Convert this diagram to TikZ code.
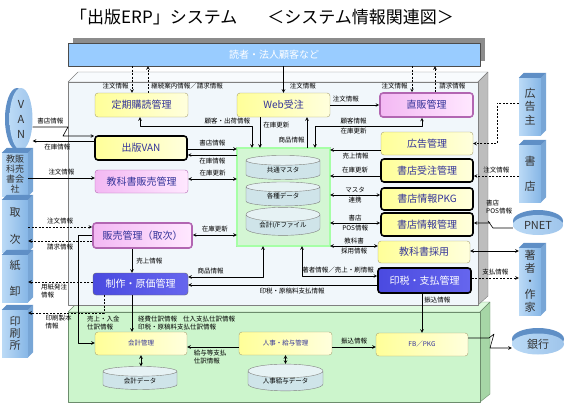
\documentclass[tikz,border=0pt]{standalone}
\usepackage{fontspec}
\setmainfont{Noto Sans CJK JP}
\usetikzlibrary{shapes.geometric,positioning}
\definecolor{boxtext}{HTML}{333399}
\definecolor{boxline}{HTML}{A8A070}
\definecolor{ylwL}{HTML}{FFFF99}
\definecolor{ylwR}{HTML}{FFFFDD}
\definecolor{pnkL}{HTML}{F3B8F3}
\definecolor{pnkR}{HTML}{FFE8FF}
\definecolor{bluL}{HTML}{4A4AE0}
\definecolor{bluR}{HTML}{6666EE}
\definecolor{entL}{HTML}{BBDAF6}
\definecolor{entR}{HTML}{86B6E6}
\definecolor{entTop}{HTML}{5F8FC6}
\definecolor{entSide}{HTML}{78A6D6}
\definecolor{bannerfill}{HTML}{99CCFF}
\definecolor{mainfill}{HTML}{F1F7FB}
\definecolor{maintop}{HTML}{F8FBFD}
\definecolor{mainside}{HTML}{BDBDBD}
\definecolor{greenfill}{HTML}{CCF5CC}
\definecolor{greentop}{HTML}{DDFADD}
\definecolor{greenside}{HTML}{A6D6A6}
\definecolor{greenline}{HTML}{6C8C6C}
\definecolor{dbfill}{HTML}{D4F6D4}
\definecolor{cylbody}{HTML}{CFE4E9}
\definecolor{cylend}{HTML}{E6F2F4}
\tikzstyle{erp} = [x=1pt, y=-1pt,
                   >=stealth,
                   line join=round]
\tikzstyle{sysbox} = [rectangle,
                      rounded corners=3pt,
                      draw=boxline,
                      left color=ylwL,
                      right color=ylwR,
                      text=boxtext,
                      font=\fontsize{10}{11}\selectfont,
                      minimum width=93pt,
                      minimum height=24pt,
                      inner sep=0pt]
\tikzstyle{keybox} = [sysbox, draw=black, line width=1.6pt]
\tikzstyle{pinkbox} = [left color=pnkL, right color=pnkR, draw=violet!60]
\tikzstyle{bluebox} = [left color=bluL, right color=bluR, text=white]
\tikzstyle{subbox} = [sysbox, font=\fontsize{6.5}{7.5}\selectfont]
\tikzstyle{dbcyl} = [cylinder,
                     shape border rotate=90,
                     aspect=.3,
                     draw=gray,
                     cylinder uses custom fill,
                     cylinder body fill=cylbody,
                     cylinder end fill=cylend,
                     minimum width=74pt,
                     minimum height=24pt,
                     inner sep=0pt,
                     font=\fontsize{6.5}{7.5}\selectfont]
\tikzstyle{entity} = [rectangle,
                      left color=entL,
                      right color=entR,
                      inner sep=0pt,
                      align=center,
                      text=black!80,
                      font=\fontsize{11}{12}\selectfont]
\tikzstyle{disk} = [ellipse, left color=entL, right color=entR!80, inner sep=0pt,
                    align=center, text=black!80, font=\fontsize{11}{12}\selectfont]
\tikzstyle{info} = [font=\fontsize{6.5}{7.5}\selectfont, inner sep=0pt]
\tikzstyle{flow} = [line width=.6pt, ->]
\tikzstyle{link} = [flow, dash pattern=on 2pt off 1.5pt]

\begin{document}
\begin{tikzpicture}[erp]
    \useasboundingbox (0,0) rectangle (568,407);
    \node (title) at (262,17) [font=\fontsize{17}{19}\selectfont]
      {「出版ERP」システム\hspace{30pt}＜システム情報関連図＞};

    % 顧客
    \fill[gray!90] (73,38) rectangle (485,61);
    \node (banner) at (274,54.5) [rectangle, draw=black!70, fill=bannerfill,
      minimum width=412pt, minimum height=23pt, text=white,
      font=\fontsize{10}{11}\selectfont] {読者・法人顧客など};

    % 会計系の箱
    \filldraw[draw=greenline, fill=greentop] (68,312) -- (78,302) -- (490,302) -- (480,312) -- cycle;
    \filldraw[draw=greenline, fill=greenside] (480,312) -- (490,302) -- (490,394) -- (480,402) -- cycle;
    \filldraw[draw=greenline, fill=greenfill] (68,312) rectangle (480,402);

    % 業務系の箱
    \filldraw[draw=gray, fill=maintop] (68,82) -- (78,72) -- (488,72) -- (478,82) -- cycle;
    \filldraw[draw=gray, fill=mainside] (478,82) -- (488,72) -- (488,296) -- (478,305) -- cycle;
    \filldraw[draw=gray, fill=mainfill] (68,82) rectangle (478,305);

    % 業務
    \node (teiki) at (141.5,105) [sysbox] {定期購読管理};
    \node (web) at (283.5,105) [sysbox] {Web受注};
    \node (chokuhan) at (426.5,105) [keybox, pinkbox] {直販管理};
    \node (van) at (141,148) [keybox, minimum width=92pt] {出版VAN};
    \node (kyouka) at (141.5,181.5) [sysbox, pinkbox, minimum height=23pt] {教科書販売管理};
    \node (hanbai) at (142.5,235.5) [keybox, pinkbox, minimum width=99pt, minimum height=25pt] {販売管理（取次）};
    \node (seisaku) at (140.5,284) [sysbox, bluebox, draw=black!60, minimum width=95pt, minimum height=22pt] {制作・原価管理};
    \node (koukoku) at (427,143.5) [sysbox, minimum width=92pt, minimum height=23pt] {広告管理};
    \node (juchu) at (427,170.5) [keybox, minimum width=92pt, minimum height=23pt] {書店受注管理};
    \node (pkg) at (427,199) [keybox, minimum width=92pt, minimum height=22pt] {書店情報PKG};
    \node (shojoho) at (427,224.5) [keybox, minimum width=92pt, minimum height=23pt] {書店情報管理};
    \node (saiyou) at (424,252) [sysbox, minimum width=92pt, minimum height=22pt] {教科書採用};
    \node (inzei) at (424.5,280.5) [keybox, bluebox, minimum width=93pt, minimum height=25pt] {印税・支払管理};

    % データベース
    \node (db) at (283.5,197) [rectangle, draw=greenline, double=green!35, double distance=1.2pt,
      fill=dbfill, minimum width=93pt, minimum height=98pt] {};
    \node (kyoutsu) at (283,170) [dbcyl] {共通マスタ};
    \node (kakushu) at (283,196.5) [dbcyl] {各種データ};
    \node (kaikeiif) at (283,225) [dbcyl] {会計I/Fファイル};

    % 会計系
    \node (kaikei) at (141,343.5) [subbox, minimum width=92pt, minimum height=23pt] {会計管理};
    \node (kdata) at (140,380.5) [dbcyl, minimum height=23pt] {会計データ};
    \node (jinji) at (285.5,343.5) [subbox, minimum width=93pt, minimum height=23pt] {人事・給与管理};
    \node (jdata) at (285.5,381) [dbcyl, minimum width=75pt] {人事給与データ};
    \node (fb) at (422,344.5) [subbox, minimum width=92pt, minimum height=23pt] {FB／PKG};

    % 外部
    \fill[entTop] (17,119) ellipse [x radius=12, y radius=31];
    \node (vanent) at (21,119) [disk, minimum width=23pt, minimum height=62pt]
      {V\\[3pt]A\\[3pt]N};
    \node (kyousha) at (15,174.5) [entity, minimum width=26pt, minimum height=43pt,
      font=\fontsize{9}{10}\selectfont] {教販\\科売\\書会\\社};
    \node (toritsugi) at (15,226) [entity, minimum width=26pt, minimum height=52pt] {取\\[15pt]次};
    \node (kamioroshi) at (15,278.5) [entity, minimum width=26pt, minimum height=47pt] {紙\\[14pt]卸};
    \node (insatsu) at (15,333.5) [entity, minimum width=26pt, minimum height=47pt] {印\\刷\\所};
    \node (kunushi) at (530,106.5) [entity, minimum width=22pt, minimum height=57pt]
      {広\\[1.5pt]告\\[1.5pt]主};
    \node (shoten) at (530,173.5) [entity, minimum width=22pt, minimum height=57pt] {書\\[13pt]店};
    \node (chosha) at (530,281.5) [entity, minimum width=22pt, minimum height=67pt]
      {著\\[1pt]者\\[1pt]・\\[1pt]作\\[1pt]家};
    \foreach \e in {kyousha,toritsugi,kamioroshi,insatsu,kunushi,shoten,chosha} {
      \fill[entSide] (\e.north east) -- ++(5,-5) -- ([shift={(5pt,5pt)}]\e.south east)
        -- (\e.south east) -- cycle;
      \fill[entTop] (\e.north west) -- ++(5,-5) -- ([shift={(5pt,5pt)}]\e.north east)
        -- (\e.north east) -- cycle;
    }
    \fill[entTop] (538,221) ellipse [x radius=25, y radius=11];
    \node (pnet) at (538,225) [disk, minimum width=50pt, minimum height=20pt] {PNET};
    \fill[entTop] (538,339) ellipse [x radius=26, y radius=11];
    \node (ginkou) at (538,344) [disk, minimum width=52pt, minimum height=21pt] {銀行};

    % 上段の流れ
    \draw[link] (banner.south -| 132,0) -- (teiki.north -| 132,0)
      node[info, pos=.76, left=3pt] {注文情報};
    \draw[link] (teiki.north -| 148,0) -- (banner.south -| 148,0)
      node[info, pos=.24, right=3pt] {継続案内情報／請求情報};
    \draw[flow] (banner.south -| web.north) -- (web.north)
      node[info, pos=.76, right=6pt] {注文情報};
    \draw[link] (banner.south -| 412,0) -- (chokuhan.north -| 412,0)
      node[info, pos=.76, left=4pt] {注文情報};
    \draw[link] (chokuhan.north -| 435,0) -- (banner.south -| 435,0)
      node[info, pos=.24, right=4pt] {請求情報};
    \draw[flow] (web.east) -- (chokuhan.west)
      node[info, pos=.32, above=3pt] {注文情報};
    \draw[flow, <->] (teiki.south -| 140,0) -- (140,126)
      -- node[info, pos=.78, above=1.5pt] {顧客・出荷情報} (252,126) -- (db.north -| 252,0);
    \draw[flow] (web.south -| 260,0) -- (db.north -| 260,0)
      node[info, pos=.25, right=3pt] {在庫更新};
    \draw[flow] (db.north -| 307,0) -- (web.south -| 307,0)
      node[info, pos=.25, left=2pt] {商品情報};
    \draw[flow, <->] (db.north -| 315,0) -- (315,126)
      -- node[info, pos=.36, above=1.5pt] {顧客情報} node[info, pos=.36, below=1.5pt] {在庫更新}
      (422,126) -- (chokuhan.south -| 422,0);

    % 左側の流れ
    \draw[flow] (vanent.east |- 0,127) -- node[info, midway, above=3pt] {書店情報} (68,127)
      -- (63,136) -- (van.west |- 0,136);
    \draw[flow] (van.west |- 0,141) -- (vanent.east |- 0,141)
      node[info, pos=.6, below=3pt] {在庫情報};
    \draw[flow] (van.east |- 0,149) -- (db.west |- 0,149)
      node[info, midway, above=3pt] {書店情報};
    \draw[flow] (db.west |- 0,155) -- (van.east |- 0,155)
      node[info, midway, below=3pt] {在庫情報};
    \draw[flow] (kyousha.east |- 0,178) -- (kyouka.west |- 0,178)
      node[info, midway, above=2.5pt] {注文情報};
    \draw[flow, <->] (kyouka.east |- 0,179) -- (db.west |- 0,179)
      node[info, midway, above=2.5pt] {在庫更新};
    \draw[link] (toritsugi.east |- 0,227) -- (hanbai.west |- 0,227)
      node[info, midway, above=2.5pt] {注文情報};
    \draw[link] (hanbai.west |- 0,241) -- (toritsugi.east |- 0,241)
      node[info, midway, below=2.5pt] {請求情報};
    \draw[flow, <->] (hanbai.east |- 0,235) -- (db.west |- 0,235)
      node[info, midway, above=2.5pt] {在庫更新};
    \draw[flow] (hanbai.south -| 132,0) -- (seisaku.north -| 132,0)
      node[info, midway, right=4pt] {売上情報};
    \draw[flow] (hanbai.west |- 0,235) -- (78,235) -- (78,343) -- (kaikei.west |- 0,343);
    \node[info, align=left, anchor=west] at (87,323) {売上・入金\\仕訳情報};
    \draw[link] (seisaku.west |- 0,282) -- (kamioroshi.east |- 0,282)
      node[info, align=left, pos=.6, below=2pt] {用紙発注\\情報};
    \draw[link] (seisaku.south -| 104,0) -- (104,313) -- (insatsu.east |- 0,313)
      node[info, align=left, pos=.6, below=2pt] {印刷製本\\情報};

    % 右側の流れ
    \draw[link] (kunushi.west |- 0,103) -- (497,103) |- (koukoku.east);
    \draw[link] (shoten.west |- 0,176) -- (juchu.east |- 0,176)
      node[info, midway, above=3pt] {注文情報};
    \draw[flow] (pnet.west |- 0,228) -- (493,228) -- (488,221) -- (490,223) -- (shojoho.east |- 0,223);
    \node[info, align=left, anchor=west] at (486,207) {書店\\POS情報};
    \draw[flow, <->] (saiyou.east |- 0,251) -- (chosha.west |- 0,251);
    \draw[link] (inzei.east |- 0,278) -- (chosha.west |- 0,278)
      node[info, midway, above=3pt] {支払情報};

    % データベースとの流れ
    \draw[flow] (koukoku.west |- 0,150) -- (db.east |- 0,150)
      node[info, midway, below=3pt] {売上情報};
    \draw[flow] (juchu.west |- 0,176) -- (db.east |- 0,176)
      node[info, midway, above=3pt] {在庫更新};
    \draw[flow, <->] (db.east |- 0,195) -- (pkg.west |- 0,195)
      node[info, midway, above=1.5pt] {マスタ} node[info, midway, below=1.5pt] {連携};
    \draw[flow, <->] (db.east |- 0,223) -- (shojoho.west |- 0,223)
      node[info, midway, above=1.5pt] {書店} node[info, midway, below=1.5pt] {POS情報};
    \draw[flow, <->] (db.east |- 0,246) -- (saiyou.west |- 0,246)
      node[info, midway, above=1.5pt] {教科書} node[info, midway, below=1.5pt] {採用情報};
    \draw[flow, <->] (db.south -| 302,0) -- (302,276)
      -- node[info, pos=.48, above=3pt] {著者情報／売上・刷情報} (inzei.west |- 0,276);
    \draw[flow, <->] (db.south -| 263,0) -- (263,277)
      -- node[info, pos=.7, above=3pt] {商品情報} (seisaku.east |- 0,277);
    \draw[flow] (inzei.west |- 0,285) -- (seisaku.east |- 0,285)
      node[info, pos=.45, below=3pt] {印税・原稿料支払情報};

    % 会計系の流れ
    \draw[flow] (seisaku.south -| 132,0) -- (kaikei.north -| 132,0);
    \node[info, align=left, anchor=west] at (138,323)
      {経費仕訳情報\hspace{6pt}仕入支払仕訳情報\\印税・原稿料支払仕訳情報};
    \draw[flow] (jinji.west |- 0,347) -- (kaikei.east |- 0,347)
      node[info, align=left, pos=.8, below right=3pt and -4pt] {給与等支払\\仕訳情報};
    \draw[flow, <->] (kaikei.south -| 141,0) -- (kdata.north -| 141,0);
    \draw[flow, <->] (jinji.south) -- (jdata.north);
    \draw[flow] (jinji.east |- 0,347) -- (fb.west |- 0,347)
      node[info, midway, above=3pt] {振込情報};
    \draw[flow] (inzei.south -| 422,0) -- (fb.north -| 422,0)
      node[info, pos=.15, right=2pt] {振込情報};
    \draw[flow] (fb.east |- 0,338) -- (489,338) -- (494,334) -- (490,348) -- (ginkou.west |- 0,348);
\end{tikzpicture}
\end{document}
